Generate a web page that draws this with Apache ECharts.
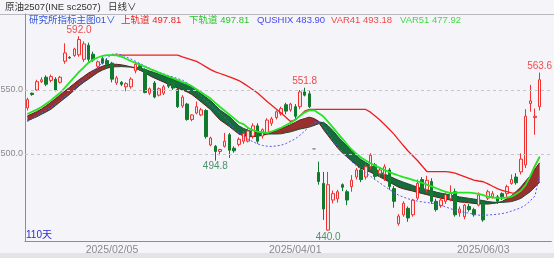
<!DOCTYPE html>
<html><head><meta charset="utf-8">
<script src="https://cdn.jsdelivr.net/npm/echarts@6/dist/echarts.min.js"></script>
<style>html,body{margin:0;padding:0;background:#f5f5f9;}#c{width:554px;height:258px;}</style>
</head><body><div id="c"></div>
<script>
const dates = ['2025/01/02','2025/01/03','2025/01/06','2025/01/07','2025/01/08','2025/01/09','2025/01/10','2025/01/13','2025/01/14','2025/01/15','2025/01/16','2025/01/17','2025/01/20','2025/01/21','2025/01/22','2025/01/23','2025/01/24','2025/01/27',
'2025/02/05','2025/02/06','2025/02/07','2025/02/10','2025/02/11','2025/02/12','2025/02/13','2025/02/14','2025/02/17','2025/02/18','2025/02/19','2025/02/20','2025/02/21','2025/02/24','2025/02/25','2025/02/26','2025/02/27','2025/02/28',
'2025/03/03','2025/03/04','2025/03/05','2025/03/06','2025/03/07','2025/03/10','2025/03/11','2025/03/12','2025/03/13','2025/03/14','2025/03/17','2025/03/18','2025/03/19','2025/03/20','2025/03/21','2025/03/24','2025/03/25','2025/03/26','2025/03/27','2025/03/28','2025/03/31',
'2025/04/01','2025/04/02','2025/04/03','2025/04/07','2025/04/08','2025/04/09','2025/04/10','2025/04/11','2025/04/14','2025/04/15','2025/04/16','2025/04/17','2025/04/18','2025/04/21','2025/04/22','2025/04/23','2025/04/24','2025/04/25','2025/04/28','2025/04/29','2025/04/30',
'2025/05/06','2025/05/07','2025/05/08','2025/05/09','2025/05/12','2025/05/13','2025/05/14','2025/05/15','2025/05/16','2025/05/19','2025/05/20','2025/05/21','2025/05/22','2025/05/23','2025/05/26','2025/05/27','2025/05/28','2025/05/29','2025/05/30',
'2025/06/03','2025/06/04','2025/06/05','2025/06/06','2025/06/09','2025/06/10','2025/06/11','2025/06/12','2025/06/13','2025/06/16','2025/06/17','2025/06/18','2025/06/19'];
const tickDates = ['2025/02/05','2025/04/01','2025/06/03'];
const gridLevels = [500, 550];

const opens = [536,547.5,550,556.5,560,557.5,558.5,556,572.5,575.5, 577,577.5,574,585,578,568.5,574.5,573,571,555.5, 556,552.5,552.5,565,569,566,547.5,555.5,546,547.5, 558,556.5,550.5,537.5,539,527,532,530.5,534,507, 506,502,506,515,504.5,507.5,510,510,514,522, 514,516,524,528.5,531.5,538.5,534.5,537,537,548.5, 547,504,485.5,477,440.5,464,465,476,470.5,474.5, 482,487.5,482,490,491.5,484.5,484,487.5,473,445.5, 452.5,457.5,452.5,465.5,480,472,478.5,463,459.5,463, 465,470.5,454,451,459,456.5,460,461.5,465.5,466.5, 466.5,469,469,477,482,486,491.5,539.5,528.5,537];
const closes = [542.5,546.5,556.5,558,554.5,560.5,550,560,579,575, 582,589.5,586,574,573.5,572,571,570,558.5,559.5, 554.5,555,558.5,570,566,548,551,544.5,551,552.5, 553,551.5,537,544.5,527,530.5,537,534.5,513.5,512.5, 502,503.5,510,503,502.5,511.5,516,518,522,510, 519,526.5,527.5,533,535.5,533.5,539,529.5,548.5,546, 537,504,478.5,457,476,469,470.5,474,464,479.5, 487.5,480,490,499,482.5,487.5,490,474.5,463,451.5, 461.5,450,464,477,472,479.5,463,456.5,464,468, 470,452.5,457,460,456.5,452.5,468,448.5,470.5,469, 463,466.5,474.5,480,477.5,496,529.5,541.5,529.5,558];
const lows = [534,545.5,549.5,555.5,553,556,549,555,570.5,574.5, 576,576,572,572,572,567,570,568,556,554, 553,549,551,563,565,547.5,546,543.5,545,546, 551.5,550,536,536,526,525.5,531,529.5,512,506, 494.8,499,505,497,501,506,508,509,512,508, 512,515,522,527,530,531,533,527,535,545, 536,504,476,448.5,440,461.5,462,471,460,470.5, 480,478,480,488,480,482,479,472,458,444, 451,447,451,464,470,470,461,455,458,461, 463,451,451,449,455,451,459,447,464,465, 461,464,466,476,476,484,489,533,515,534];
const highs = [544,548,558,560,561.5,562,560,561,586.5,576.5, 583,592,588,587,580,573,576,575,572,561, 557,556,560,572,571,567,552,557,552,554, 560,558,552,546,540,531,541,536,535,513.5, 507,504,516.5,516.5,506,513,518,520,524,524, 520,528,529,534,537,540,540,539,550,551.8, 550,504,494,486,486,471.5,472,477,472,483.5, 489,490,492,500.5,493,490,492,489,475,453, 463,459,465,480,482,483,481,465,466,470, 475.5,473,459,461,461,458,470,463,472,471, 468,470,476,484,485,500.5,535,554,535.5,563.6];

const upperTrack = [null,null,null,null,null,null,null,null,null,null, null,null,null,null,null,null,null,null,577.3,577.3, 577.3,577.3,577.3,577.3,577.3,577.3,577.3,577.3,577.3,577.3, 577.3,577.3,577.3,575.9,574.8,573.6,572.4,570.3,568.1,565.9, 564.2,562.9,561.6,560.3,558.9,557.4,555.2,552.7,550.2,547.6, 544.4,541.1,538,535,532,528.7,525.4,526.7,529.8,533.5, 534.9,534.9,534.9,534.9,534.9,534.9,534.9,534.9,534.9,534.9, 534.9,534.9,534.8,532.7,529.7,526.6,523,519.3,515.5,511, 506.6,502.3,498.6,494.9,490.6,486.3,486.2,486.2,486.2,486.2, 485.9,485.1,483.7,482.3,480.9,479.6,478.9,478.3,476.6,474.8, 472.9,471.5,470.6,469.6,469.3,471.3,475.7,482.7,490.7,497.81];
const lowerTrack = [531.25,533,534.7,536.7,539.3,541.9,544.9,547.9,551.9,556, 560,564.1,567.7,571.4,573.7,575.4,576.6,577.3,577.3,577.1, 576.1,574.4,572.7,571.2,569.8,568.2,566.6,565.1,563.6,562.1, 560.7,559.2,557.7,556.2,554.8,553,550.5,548.2,545.8,543.3, 540,536.7,533.8,530.8,527.7,524.6,523.3,520.3,518.7,517.5, 517,516.5,517.6,519,520.5,522.4,524.3,526.7,529.8,532.4, 534.1,534.1,531.8,529.3,525.1,520.8,516.3,512,507.6,503.5, 500.2,497.2,494.9,492.8,490.9,489.1,487.5,485.8,484.5,483.2, 482,480.9,479.8,478.7,477.5,476.1,474.7,473.2,471.7,470.5, 469.5,469.7,469.8,469.8,469.8,469.4,468.9,467.9,466.7,466, 465.7,465.5,466,466.6,468.7,471.3,475.7,482.7,490.7,497.81];
const qushix = [525.4,527.6,529.7,532,534.1,536.4,539.2,542,545.1,548.2, 551.5,554.8,558.1,561.4,564.7,568,571.5,575.2,577.9,578.3, 577.6,576,574.2,572.5,570.6,568.8,567.1,565.3,563.8,562.6, 561.3,560.2,558.9,557.7,555.5,552.2,548.8,545.1,541.5,537.9, 534.9,532,528.4,524,519.5,516.4,513.7,511.3,509.6,507.9, 506.7,506.1,505.9,506.3,506.9,508.1,510,511.8,514.6,517.9, 521.3,524.4,524.6,522,516.8,510.4,506.1,502,498,494.1, 490.9,487.7,485.2,482.6,480,477.4,474.8,472.3,470,467.8, 466.3,465,464,463.2,462.5,462.1,461.6,460.9,459.9,458.6, 457.3,456.2,455.1,454.4,453.7,452.9,452.2,452.1,452.3,452.6, 452.9,453.4,454.2,455.4,456.6,458,460.2,463.4,467.2,483.9];
const var41 = [529.7,531.4,533.1,535.2,537.7,540.4,543.3,546.3,549.2,552.1, 555.1,558,560.6,563.2,565.3,567.1,568.6,569.7,570.2,570.1, 569.7,569,568.1,566.9,565.5,563.4,561.2,559.4,557.8,556.2, 554.5,553,551.5,550,548.5,546.5,543.6,540.6,537.7,534.6, 530.5,526.6,524,521.4,518.5,515.6,514.3,513.6,513.5,513.9, 514.5,515.5,516.9,518.4,519.9,521.3,522.9,524.7,526.6,527.7, 528.8,527.7,525.5,519.1,514.3,509.5,504.8,500.9,497.7,494.6, 491.5,488.8,487.3,485.8,483.9,482.1,480.1,478.1,476,474, 472.8,471.9,471,470,469.1,468.2,467.3,466.3,465.5,464.8, 464,463.3,462.5,462.2,461.8,461.4,461,460.9,460.9,461.3, 461.8,462.9,465,467.4,470.7,474.2,478.7,483.1,488.2,493.18];
const var51 = [525.8,527.5,529.1,531,532.9,534.9,537.8,540.8,543.7,546.6, 549.9,553.2,556,558.5,561.1,563.7,565.6,567.1,568,568.2, 568.3,568.1,567.9,567.6,567.2,566.1,564.9,563.7,562.4,561.1, 559.8,558.4,556.9,555.5,554,552.1,549.5,547,544.4,541.7, 538,534.4,531.8,529.2,525.6,522,520,518.5,517.4,516.5, 515.9,515.7,515.6,515.6,515.8,516.6,517.3,518.4,519.5,520.2, 521,522.3,523.7,524.8,522.1,518.4,514,509.9,506.3,502.6, 498.9,495.6,493.4,491.2,488.6,486,484.3,482.7,481,479.4, 478,476.7,475.4,474.1,473.1,472.1,471.2,470.2,469.4,468.7, 467.9,467.2,466.4,465.9,465.3,464.8,464.2,463.6,462.8,462.4, 462.2,462.2,462.4,462.8,463.9,465.3,467.9,470.5,474.2,477.92];
const peakIdx = [11, 59, 109];
const troughIdx = [40, 64];

const FONT = '"Liberation Sans","Noto Sans CJK SC",sans-serif';
const cats = dates.concat([' ', '  ']);
const last = dates.length - 1;
const candleData = dates.map((d, i) => {
  const v = [opens[i], closes[i], lows[i], highs[i]];
  if (opens[i] === closes[i] && highs[i] === lows[i]) return {value: v, itemStyle: {color: '#8c8c8c', borderColor: '#8c8c8c'}};
  return v;
});
const bandBase = var41.map((v, i) => Math.min(v, var51[i]));
const bandUp = var41.map((v, i) => +Math.max(v - var51[i], 0).toFixed(3));
const bandDn = var51.map((v, i) => +Math.max(v - var41[i], 0).toFixed(3));

function txt(x, y, text, fill, size, align) {
  return {type: 'text', x: x, y: y, silent: true, z: 10,
    style: {text: text, fill: fill, font: size + 'px ' + FONT, align: align || 'left', verticalAlign: 'middle'}};
}
const legendItems = [
  ['研究所指标主图01∨', '#3558d6', 29],
  ['上轨道 ' + upperTrack[last].toFixed(2), '#f02020', 121],
  ['下轨道 ' + lowerTrack[last].toFixed(2), '#22c822', 189],
  ['QUSHIX ' + qushix[last].toFixed(2), '#4848f0', 257],
  ['VAR41 ' + var41[last].toFixed(2), '#f04848', 331],
  ['VAR51 ' + var51[last].toFixed(2), '#44d844', 400]
];

const chart = echarts.init(document.getElementById('c'), null, {renderer: 'canvas'});
chart.setOption({
  animation: false,
  backgroundColor: '#f5f5f9',
  grid: {left: 25, right: 2.6, top: 14, bottom: 17},
  xAxis: {
    type: 'category', data: cats, boundaryGap: true,
    axisLine: {show: true, lineStyle: {color: '#8c8c94', width: 1}},
    axisTick: {show: false},
    splitLine: {show: false},
    axisLabel: {
      interval: (i, v) => tickDates.indexOf(v) >= 0,
      color: '#8a8a8a', fontSize: 10.5, fontFamily: FONT, margin: 4
    }
  },
  yAxis: {
    type: 'value', min: 432, max: 609.4, scale: true,
    axisLine: {show: true, lineStyle: {color: '#8c8c94', width: 1}},
    axisTick: {show: false}, axisLabel: {show: false}, splitLine: {show: false}
  },
  graphic: [
    {type: 'rect', shape: {x: 0, y: 253, width: 554, height: 5}, style: {fill: '#e3e3e8'}, silent: true, z: 0},
    {type: 'line', shape: {x1: 0, y1: 14.5, x2: 554, y2: 14.5}, style: {stroke: '#b8b8c0', lineWidth: 1}, silent: true, z: 0},
    txt(5, 7.5, '原油2507(INE sc2507)', '#333333', 9.5),
    txt(108, 7.5, '日线∨', '#333333', 9.5),
    txt(26, 235.5, '110天', '#2b2bd0', 10)
  ].concat(legendItems.map(l => txt(l[2], 20, l[0], l[1], 9.5))),
  series: [
    {name: 'base', type: 'line', data: bandBase, stack: 'band', symbol: 'none', silent: true, z: 1,
      lineStyle: {width: 0, opacity: 0},
      markLine: {silent: true, symbol: 'none', animation: false,
        lineStyle: {color: '#c6c6cc', type: [3, 3], width: 1},
        label: {position: 'start', formatter: p => Number(p.value).toFixed(1), color: '#8a8a8a', fontSize: 9, fontFamily: FONT, distance: 2},
        data: gridLevels.map(v => ({yAxis: v}))}},
    {name: 'bandUp', type: 'line', data: bandUp, stack: 'band', symbol: 'none', silent: true, z: 1,
      lineStyle: {width: 0, opacity: 0}, areaStyle: {color: '#9a2f2f', opacity: 1}},
    {name: 'bandDn', type: 'line', data: bandDn, stack: 'band', symbol: 'none', silent: true, z: 1,
      lineStyle: {width: 0, opacity: 0}, areaStyle: {color: '#176c3b', opacity: 1}},
    {name: 'VAR41', type: 'line', data: var41, symbol: 'none', silent: true, z: 1,
      lineStyle: {width: 1, color: '#5e1e1e'}},
    {name: 'VAR51', type: 'line', data: var51, symbol: 'none', silent: true, z: 1,
      lineStyle: {width: 1, color: '#1a4d2d'}},
    {name: 'K', type: 'candlestick', data: candleData, barWidth: 3, z: 2,
      itemStyle: {color: '#ffe4e4', color0: '#127a2f', borderColor: '#f03232', borderColor0: '#127a2f', borderWidth: 1},
      markPoint: {
        symbol: 'circle', symbolSize: 0, animation: false, silent: true,
        data: peakIdx.map(i => ({coord: [dates[i], highs[i]], value: highs[i],
            label: {show: true, position: 'inside', offset: [0, -6], color: '#ee4b4b', fontSize: 10, fontFamily: FONT, formatter: p => Number(p.value).toFixed(1)}}))
          .concat(troughIdx.map(i => ({coord: [dates[i], lows[i]], value: lows[i],
            label: {show: true, position: 'inside', offset: [0, 6], color: '#4a9268', fontSize: 10, fontFamily: FONT, formatter: p => Number(p.value).toFixed(1)}})))
      }},
    {name: '上轨道', type: 'line', data: upperTrack, symbol: 'none', silent: true, z: 3,
      lineStyle: {width: 1.3, color: '#f01c1c'}},
    {name: 'QUSHIX', type: 'line', data: qushix, symbol: 'none', silent: true, z: 3,
      lineStyle: {width: 1, color: '#5858f2', type: [2, 2]}},
    {name: '下轨道', type: 'line', data: lowerTrack, symbol: 'none', silent: true, z: 4,
      lineStyle: {width: 1.8, color: '#22e622'}}
  ]
});
</script>
</body></html>
